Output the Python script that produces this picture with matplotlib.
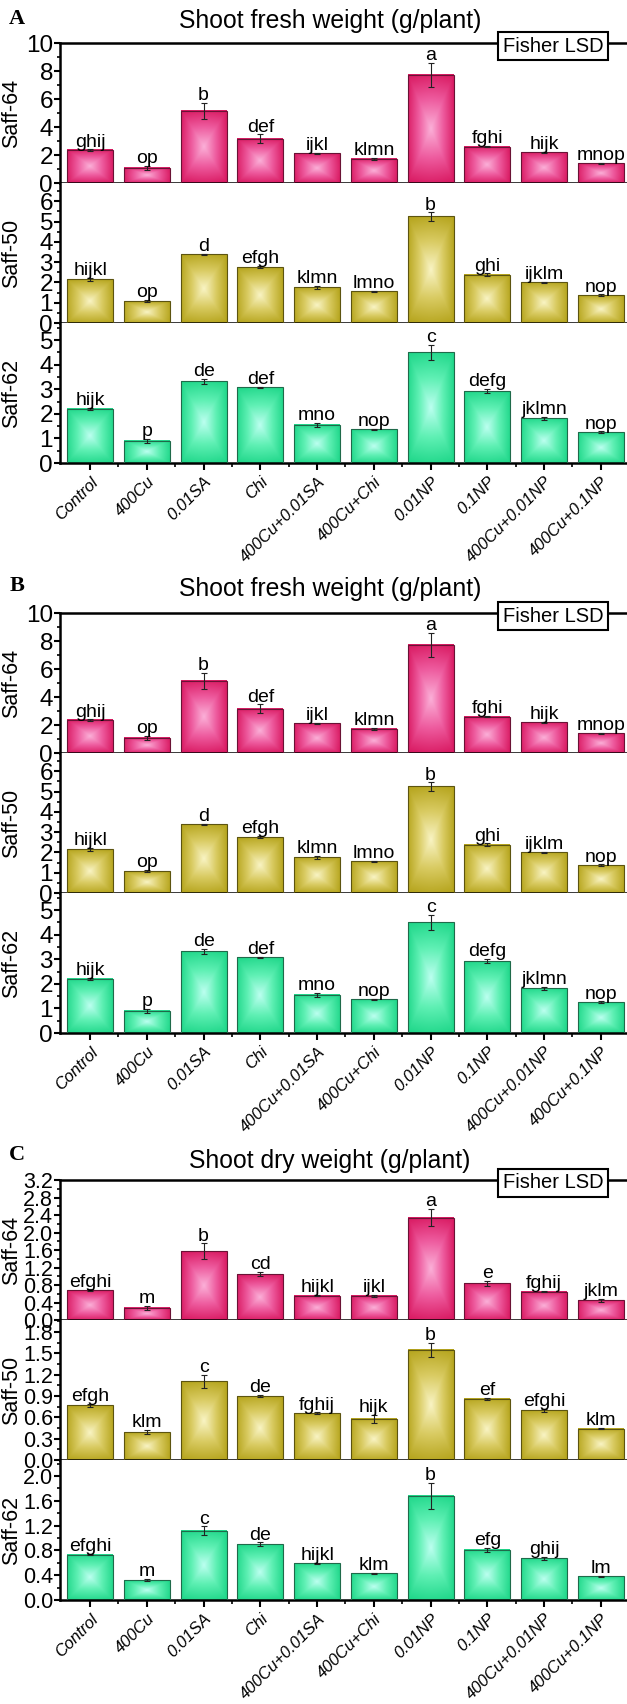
import numpy as np
import matplotlib
matplotlib.use('Agg')
import matplotlib.pyplot as plt
from matplotlib import font_manager
from matplotlib.colors import LinearSegmentedColormap
from matplotlib.ticker import MultipleLocator, FormatStrFormatter
from matplotlib.transforms import ScaledTranslation

treatments = ['Control', '400Cu', '0.01SA', 'Chi', '400Cu+0.01SA', '400Cu+Chi',
              '0.01NP', '0.1NP', '400Cu+0.01NP', '400Cu+0.1NP']

# shoot fresh weight (panels A and B)
fresh_64 = [2.36, 1.10, 5.15, 3.15, 2.12, 1.72, 7.72, 2.60, 2.20, 1.42]
fresh_64_err = [0.04, 0.15, 0.57, 0.32, 0.04, 0.08, 0.86, 0.05, 0.05, 0.04]
fresh_64_let = ['ghij', 'op', 'b', 'def', 'ijkl', 'klmn', 'a', 'fghi', 'hijk', 'mnop']

fresh_50 = [2.16, 1.08, 3.39, 2.75, 1.76, 1.57, 5.25, 2.39, 2.00, 1.37]
fresh_50_err = [0.08, 0.05, 0.03, 0.06, 0.06, 0.02, 0.20, 0.05, 0.03, 0.04]
fresh_50_let = ['hijkl', 'op', 'd', 'efgh', 'klmn', 'lmno', 'b', 'ghi', 'ijklm', 'nop']

fresh_62 = [2.20, 0.90, 3.32, 3.08, 1.55, 1.37, 4.50, 2.93, 1.82, 1.25]
fresh_62_err = [0.04, 0.07, 0.10, 0.02, 0.08, 0.02, 0.30, 0.08, 0.05, 0.04]
fresh_62_let = ['hijk', 'p', 'de', 'def', 'mno', 'nop', 'c', 'defg', 'jklmn', 'nop']

# shoot dry weight (panel C)
dry_64 = [0.68, 0.28, 1.57, 1.05, 0.56, 0.55, 2.34, 0.84, 0.65, 0.45]
dry_64_err = [0.02, 0.04, 0.18, 0.05, 0.02, 0.02, 0.20, 0.06, 0.02, 0.04]
dry_64_let = ['efghi', 'm', 'b', 'cd', 'hijkl', 'ijkl', 'a', 'e', 'fghij', 'jklm']

dry_50 = [0.77, 0.39, 1.11, 0.90, 0.66, 0.58, 1.55, 0.86, 0.70, 0.44]
dry_50_err = [0.02, 0.03, 0.09, 0.02, 0.01, 0.06, 0.10, 0.01, 0.02, 0.01]
dry_50_let = ['efgh', 'klm', 'c', 'de', 'fghij', 'hijk', 'b', 'ef', 'efghi', 'klm']

dry_62 = [0.73, 0.32, 1.12, 0.90, 0.59, 0.43, 1.68, 0.81, 0.67, 0.38]
dry_62_err = [0.01, 0.02, 0.07, 0.03, 0.01, 0.01, 0.21, 0.03, 0.03, 0.01]
dry_62_let = ['efghi', 'm', 'c', 'de', 'hijkl', 'klm', 'b', 'efg', 'ghij', 'lm']

names = {f.name for f in font_manager.fontManager.ttflist}
sans = 'Liberation Sans Narrow' if 'Liberation Sans Narrow' in names else 'Liberation Sans'
plt.rcParams['font.family'] = [sans, 'DejaVu Sans']

W, H = 627, 1704
fig = plt.figure(figsize=(W / 100, H / 100), dpi=100)

# pillow-like gradient, light centre dark edges
u = np.linspace(-1, 1, 121)
U, V = np.meshgrid(u, u)
Z = 0.75 * np.maximum(np.abs(U), np.abs(V)) + 0.25 * np.hypot(U, V) / np.sqrt(2)

cmaps = {
    'pink': LinearSegmentedColormap.from_list('pk', ['#fbb0d8', '#ee5c9f', '#d8175f']),
    'olive': LinearSegmentedColormap.from_list('ol', ['#f9f4c4', '#d9cb62', '#b4a31a']),
    'green': LinearSegmentedColormap.from_list('gr', ['#bcfff0', '#5ff0b4', '#1dd688']),
}
edges = {'pink': '#6a1235', 'olive': '#5c5410', 'green': '#1f6a4a'}

x = np.arange(len(treatments))
shift = ScaledTranslation(0.04, -0.02, fig.dpi_scale_trans)


def draw_panel(ax, vals, err, lets, cname, ylab, ytop, step, fmt, tsize, first, last):
    bars = ax.bar(x, vals, width=0.81, color='none', edgecolor=edges[cname],
                  linewidth=0.8, zorder=3)
    for r in bars:
        ax.imshow(Z, cmap=cmaps[cname], origin='lower', aspect='auto',
                  interpolation='bilinear', zorder=2,
                  extent=(r.get_x(), r.get_x() + r.get_width(), 0, r.get_height()))
    ax.errorbar(x, vals, yerr=err, fmt='none', ecolor='#222222', elinewidth=0.8,
                capsize=2, capthick=0.8, zorder=4)
    for xi, v, e, t in zip(x, vals, err, lets):
        ax.annotate(t, (xi, v + e), xytext=(0, 2), textcoords='offset points',
                    ha='center', va='baseline', fontsize=14, zorder=5)
    ax.set_xlim(-0.53, 9.69)
    ax.set_ylim(0, ytop)
    ax.yaxis.set_major_locator(MultipleLocator(step))
    ax.yaxis.set_minor_locator(MultipleLocator(step / 2))
    ax.yaxis.set_major_formatter(FormatStrFormatter(fmt))
    ax.tick_params(axis='y', which='major', direction='out', length=4, width=1.5,
                   labelsize=tsize, pad=1)
    ax.tick_params(axis='y', which='minor', direction='out', length=2.5, width=1.2)
    ax.spines['right'].set_visible(False)
    ax.spines['top'].set_visible(first)
    for s in ['left', 'bottom', 'top']:
        ax.spines[s].set_linewidth(1.8)
    ax.set_ylabel(ylab, fontsize=15.5)
    ax.yaxis.set_label_coords(-0.066, 0.5)
    if last:
        ax.set_xticks(x)
        ax.set_xticklabels(treatments, rotation=45, ha='right', va='top',
                           rotation_mode='anchor', style='italic', fontsize=12)
        for lab in ax.get_xticklabels():
            lab.set_transform(lab.get_transform() + shift)
        ax.set_xticks(x[:-1] + 0.5, minor=True)
        ax.tick_params(axis='x', which='major', direction='out', length=5, width=1.5, pad=3)
        ax.tick_params(axis='x', which='minor', direction='out', length=3, width=1.2)
    else:
        ax.tick_params(axis='x', which='both', bottom=False, labelbottom=False)


groups = [
    dict(top=43, letter='A', ly=19, ty=21, title='Shoot fresh weight (g/plant)',
         data=[(fresh_64, fresh_64_err, fresh_64_let, 'pink', 'Saff-64', 10.0, 2, '%d', 17.5),
               (fresh_50, fresh_50_err, fresh_50_let, 'olive', 'Saff-50', 6.9, 1, '%d', 17.5),
               (fresh_62, fresh_62_err, fresh_62_let, 'green', 'Saff-62', 5.7, 1, '%d', 17.5)]),
    dict(top=613, letter='B', ly=586, ty=589, title='Shoot fresh weight (g/plant)',
         data=[(fresh_64, fresh_64_err, fresh_64_let, 'pink', 'Saff-64', 10.0, 2, '%d', 17.5),
               (fresh_50, fresh_50_err, fresh_50_let, 'olive', 'Saff-50', 6.9, 1, '%d', 17.5),
               (fresh_62, fresh_62_err, fresh_62_let, 'green', 'Saff-62', 5.7, 1, '%d', 17.5)]),
    dict(top=1180, letter='C', ly=1155, ty=1161, title='Shoot dry weight (g/plant)',
         data=[(dry_64, dry_64_err, dry_64_let, 'pink', 'Saff-64', 3.2001, 0.4, '%.1f', 15.5),
               (dry_50, dry_50_err, dry_50_let, 'olive', 'Saff-50', 1.97, 0.3, '%.1f', 15.5),
               (dry_62, dry_62_err, dry_62_let, 'green', 'Saff-62', 2.26, 0.4, '%.1f', 15.5)]),
]

ph = 140
left = 60 / W
width = 580 / W
for g in groups:
    for i, d in enumerate(g['data']):
        bottom = 1 - (g['top'] + ph * (i + 1)) / H
        ax = fig.add_axes([left, bottom, width, ph / H])
        draw_panel(ax, *d, first=(i == 0), last=(i == 2))
    fig.text(330 / W, 1 - g['ty'] / H, g['title'], ha='center', va='center', fontsize=17.8)
    fig.text(17 / W, 1 - g['ly'] / H, g['letter'], ha='center', va='center', fontsize=16,
             family='Liberation Serif', weight='bold')
    fig.text(553 / W, 1 - (g['top'] + 3) / H, 'Fisher LSD', ha='center', va='center',
             fontsize=14.5, zorder=10,
             bbox=dict(boxstyle='square,pad=0.22', fc='white', ec='black', lw=1.5))

fig.savefig('out.png', dpi=100)
